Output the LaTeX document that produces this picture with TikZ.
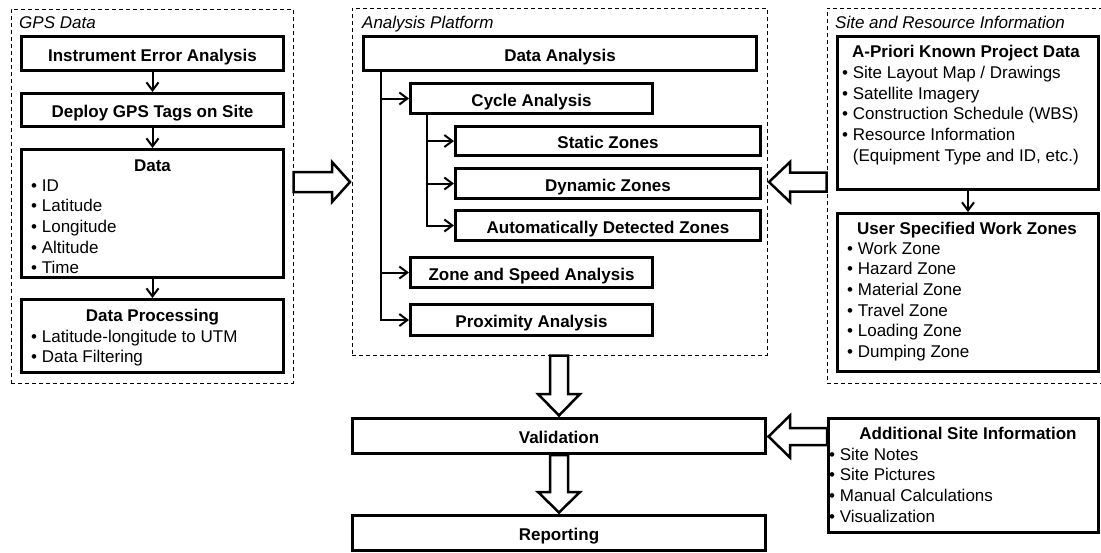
\documentclass[tikz,border=0pt]{standalone}
\usepackage{fontspec}
\setmainfont{Liberation Sans}
\usetikzlibrary{arrows.meta,calc}
\begin{document}
\begin{tikzpicture}[x=1pt,y=-1pt,
  box/.style={draw, line width=3pt, fill=white, inner sep=0pt, font=\fontsize{17}{20.7}\selectfont\bfseries, text height=15pt, text depth=0pt},
  ttl/.style={inner sep=0pt, font=\fontsize{17}{20.7}\selectfont\bfseries, anchor=base},
  item/.style={inner sep=0pt, font=\fontsize{17}{20.7}\selectfont, anchor=base west},
  grp/.style={draw, line width=1pt, dash pattern=on 4pt off 3pt, inner sep=0pt},
  grplabel/.style={inner sep=0pt, font=\fontsize{17}{20.7}\selectfont\itshape, anchor=base west},
  conn/.style={line width=2pt, line join=miter, -{Straight Barb[length=8pt,width=12pt]}},
  fat/.style={draw, line width=2.5pt, fill=white, line join=miter}
]
\useasboundingbox (0,0) rectangle (1101,552);

% groups
\node[grp, minimum width=282pt, minimum height=374pt] (ggps) at (152,196) {};
\node[grp, minimum width=415pt, minimum height=347pt] (gap) at (559.5,181.5) {};
\node[grp, minimum width=283pt, minimum height=375pt] (gsr) at (968.5,195.5) {};
\node[grplabel] (lgps) at (19,28) {GPS Data};
\node[grplabel] (lap) at (362,28) {Analysis Platform};
\node[grplabel] (lsr) at (835,28) {Site and Resource Information};

% GPS column
\node[box, minimum width=262pt, minimum height=34pt] (b1) at (152.5,53.5) {Instrument Error Analysis};
\node[box, minimum width=262pt, minimum height=33pt] (b2) at (152.5,110) {Deploy GPS Tags on Site};
\node[box, minimum width=262pt, minimum height=128pt] (b3) at (152.5,213.5) {};
\node[box, minimum width=262pt, minimum height=73pt] (b4) at (152.5,336) {};
\node[ttl] (b3t) at (152.5,171.5) {Data};
\foreach \t [count=\i] in {ID,Latitude,Longitude,Altitude,Time}
  \node[item] (b3i\i) at (31,{191+20.7*(\i-1)}) {•\ \t};
\node[ttl] (b4t) at (152.5,321) {Data Processing};
\foreach \t [count=\i] in {Latitude-longitude to UTM,Data Filtering}
  \node[item] (b4i\i) at (31,{342+20.7*(\i-1)}) {•\ \t};
\draw[conn] (b1) -- (b2);
\draw[conn] (b2) -- (b3);
\draw[conn] (b3) -- (b4);

% Analysis platform
\node[box, minimum width=393pt, minimum height=34pt] (da) at (560,53.5) {Data Analysis};
\node[box, minimum width=242pt, minimum height=30pt] (cyc) at (531.5,98.5) {Cycle Analysis};
\node[box, minimum width=305pt, minimum height=29pt] (sta) at (608,141) {Static Zones};
\node[box, minimum width=305pt, minimum height=30pt] (dyn) at (608,183.5) {Dynamic Zones};
\node[box, minimum width=305pt, minimum height=30pt] (aut) at (608,225.5) {Automatically Detected Zones};
\node[box, minimum width=242pt, minimum height=30pt] (zsa) at (531.5,272.5) {Zone and Speed Analysis};
\node[box, minimum width=242pt, minimum height=31pt] (prx) at (531.5,320) {Proximity Analysis};
\coordinate (t1) at (381,0);
\coordinate (t2) at (427,0);
\draw[conn] (t1 |- da.south) |- (prx.west);
\draw[conn] (t1 |- cyc.west) -- (cyc.west);
\draw[conn] (t1 |- zsa.west) -- (zsa.west);
\draw[conn] (t2 |- cyc.south) |- (aut.west);
\draw[conn] (t2 |- sta.west) -- (sta.west);
\draw[conn] (t2 |- dyn.west) -- (dyn.west);

% Site and resource
\node[box, minimum width=261pt, minimum height=153pt] (apri) at (968,113) {};
\node[ttl] (aprit) at (966,57.3) {A-Priori Known Project Data};
\foreach \t [count=\i] in {•\ Site Layout Map / Drawings,•\ Satellite Imagery,•\ Construction Schedule (WBS),•\ Resource Information,{\hphantom{•\ }(Equipment Type and ID, etc.)}}
  \node[item] (aprii\i) at (842,{78.3+20.7*(\i-1)}) {\t};
\node[box, minimum width=261pt, minimum height=158pt] (us) at (968,292.5) {};
\node[ttl] (ust) at (967,234.3) {User Specified Work Zones};
\foreach \t [count=\i] in {Work Zone,Hazard Zone,Material Zone,Travel Zone,Loading Zone,Dumping Zone}
  \node[item] (usi\i) at (847,{254+20.7*(\i-1)}) {•\ \t};
\draw[conn] (apri) -- (us);

% bottom
\node[box, minimum width=413pt, minimum height=35pt] (val) at (559,436) {Validation};
\node[box, minimum width=413pt, minimum height=35pt] (rep) at (559,533) {Reporting};
\node[box, minimum width=270pt, minimum height=114pt] (add) at (963.5,475.5) {};
\node[ttl] (addt) at (968,439) {Additional Site Information};
\foreach \t [count=\i] in {Site Notes,Site Pictures,Manual Calculations,Visualization}
  \node[item] (addi\i) at (829,{460+20.7*(\i-1)}) {•\ \t};

% fat arrows
\draw[fat] (ggps.east |- 0,172) -- (332,172) -- (332,162) -- ($(gap.west |- 0,182)+(-1.5,0)$) -- (332,202) -- (332,192) -- (ggps.east |- 0,192) -- cycle;
\draw[fat] (gsr.west |- 0,172.5) -- (790,172.5) -- (790,162) -- ($(gap.east |- 0,182)+(1.5,0)$) -- (790,202) -- (790,191.5) -- (gsr.west |- 0,191.5) -- cycle;
\draw[fat] (gap.south -| 550,0) -- (550,394) -- (538,394) -- ($(val.north)+(0,-1.5)$) -- (580,394) -- (568,394) -- (gap.south -| 568,0) -- cycle;
\draw[fat] (val.south -| 550,0) -- (550,492) -- (538,492) -- ($(rep.north)+(0,-1.5)$) -- (580,492) -- (568,492) -- (val.south -| 568,0) -- cycle;
\draw[fat] (add.west |- 0,428) -- (790,428) -- (790,415.5) -- ($(val.east |- 0,436.5)+(1.5,0)$) -- (790,457.5) -- (790,445) -- (add.west |- 0,445) -- cycle;
\end{tikzpicture}
\end{document}
